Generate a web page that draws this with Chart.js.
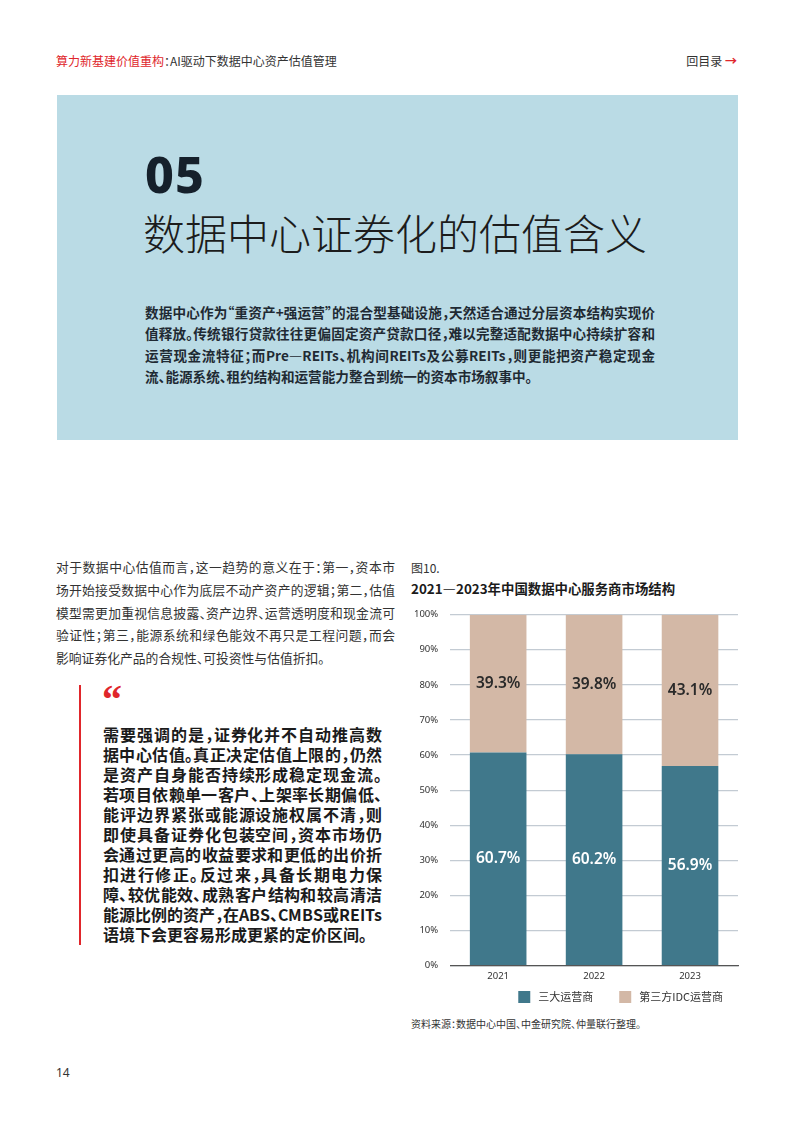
<!DOCTYPE html>
<html lang="zh-CN">
<head>
<meta charset="utf-8">
<title>数据中心证券化的估值含义</title>
<script src="https://cdn.jsdelivr.net/npm/chart.js@4.4.1/dist/chart.umd.min.js"></script>
<style>
  /* tighter line boxes for big / tightly set CJK text (same installed fonts) */
  @font-face {
    font-family: "QuoteCJK";
    src: local("Noto Sans CJK SC Bold"), local("NotoSansCJKsc-Bold"), local("Noto Sans CJK SC");
    font-weight: bold;
    ascent-override: 86%;
    descent-override: 14%;
    line-gap-override: 0%;
  }
  @font-face {
    font-family: "TitleCJK";
    src: local("Noto Sans CJK SC Light"), local("NotoSansCJKsc-Light"), local("Noto Sans CJK SC DemiLight");
    font-weight: 300;
    ascent-override: 88%;
    descent-override: 12%;
    line-gap-override: 0%;
  }
  html, body { margin: 0; padding: 0; background: #fff; }
  body { width: 794px; height: 1123px; position: relative; overflow: hidden;
         font-family: "Noto Sans CJK SC", "Noto Sans", sans-serif; color: #222;
         font-feature-settings: "halt"; }
  .abs { position: absolute; }
  .jl { display: block; text-align: justify; text-align-last: justify; white-space: nowrap; }
  .last { text-align-last: left; }
  #header-left { left: 56px; top: 52px; font-size: 12px; color: #333; }
  #header-left .red { color: #e0262b; }
  #header-right { right: 57px; top: 52px; font-size: 12px; color: #333; }
  #header-right .arrow { color: #e0262b; font-weight: bold; }
  #box { left: 57px; top: 95px; width: 681px; height: 345px; background: #badbe5; }
  #num { left: 145px; top: 149px; font-family: "Noto Sans", sans-serif; font-weight: 800;
         font-size: 50px; letter-spacing: 1px; color: #15202b; line-height: 1; }
  #title { left: 143px; top: 211px; font-family: "TitleCJK", "Noto Sans CJK SC", sans-serif;
           font-size: 42px; font-weight: 300; color: #1c1c1c; line-height: 1.1; }
  #intro { left: 145px; top: 302px; width: 510px; font-size: 13.6px; font-weight: bold;
           line-height: 21.4px; color: #1f2a33; }
  #body { left: 56px; top: 556px; width: 339px; font-size: 12.8px; line-height: 22.8px; color: #333; }
  #bar { left: 79px; top: 685px; width: 2px; height: 260px; background: #e0262b; }
  #qmark { left: 102px; top: 680px; font-family: "Liberation Serif", serif; font-weight: bold;
           font-size: 40px; color: #e0262b; line-height: 1; }
  #quote { left: 103px; top: 725px; width: 279px; font-family: "QuoteCJK", "Noto Sans CJK SC", sans-serif;
           font-size: 16px; font-weight: bold; line-height: 20px; color: #1b1b1b; }
  #fig { left: 411px; top: 559px; font-size: 12px; color: #333; }
  #ctitle { left: 411px; top: 578px; font-size: 13.4px; font-weight: bold; color: #1b1b1b; }
  #chart-wrap { left: 402px; top: 597px; width: 342px; height: 416px; }
  #source { left: 411px; top: 1016px; font-size: 10px; color: #333; }
  #page { left: 56px; top: 1064px; font-size: 12px; color: #333; font-family: "Noto Sans", sans-serif; }
</style>
</head>
<body>
<div id="header-left" class="abs"><span class="red">算力新基建价值重构</span>：AI驱动下数据中心资产估值管理</div>
<div id="header-right" class="abs">回目录 <span class="arrow">→</span></div>

<div id="box" class="abs"></div>
<div id="num" class="abs">05</div>
<div id="title" class="abs">数据中心证券化的估值含义</div>
<div id="intro" class="abs">
  <span class="jl">数据中心作为“重资产+强运营”的混合型基础设施，天然适合通过分层资本结构实现价</span>
  <span class="jl">值释放。传统银行贷款往往更偏固定资产贷款口径，难以完整适配数据中心持续扩容和</span>
  <span class="jl">运营现金流特征；而Pre—REITs、机构间REITs及公募REITs，则更能把资产稳定现金</span>
  <span class="jl last">流、能源系统、租约结构和运营能力整合到统一的资本市场叙事中。</span>
</div>

<div id="body" class="abs">
  <span class="jl">对于数据中心估值而言，这一趋势的意义在于：第一，资本市</span>
  <span class="jl">场开始接受数据中心作为底层不动产资产的逻辑；第二，估值</span>
  <span class="jl">模型需更加重视信息披露、资产边界、运营透明度和现金流可</span>
  <span class="jl">验证性；第三，能源系统和绿色能效不再只是工程问题，而会</span>
  <span class="jl last">影响证券化产品的合规性、可投资性与估值折扣。</span>
</div>

<div id="bar" class="abs"></div>
<div id="qmark" class="abs">“</div>
<div id="quote" class="abs">
  <span class="jl">需要强调的是，证券化并不自动推高数</span>
  <span class="jl">据中心估值。真正决定估值上限的，仍然</span>
  <span class="jl">是资产自身能否持续形成稳定现金流。</span>
  <span class="jl">若项目依赖单一客户、上架率长期偏低、</span>
  <span class="jl">能评边界紧张或能源设施权属不清，则</span>
  <span class="jl">即使具备证券化包装空间，资本市场仍</span>
  <span class="jl">会通过更高的收益要求和更低的出价折</span>
  <span class="jl">扣进行修正。反过来，具备长期电力保</span>
  <span class="jl">障、较优能效、成熟客户结构和较高清洁</span>
  <span class="jl">能源比例的资产，在ABS、CMBS或REITs</span>
  <span class="jl last">语境下会更容易形成更紧的定价区间。</span>
</div>

<div id="fig" class="abs">图10.</div>
<div id="ctitle" class="abs">2021—2023年中国数据中心服务商市场结构</div>
<div id="chart-wrap" class="abs"><canvas id="chart"></canvas></div>
<div id="source" class="abs">资料来源：数据中心中国、中金研究院、仲量联行整理。</div>
<div id="page" class="abs">14</div>

<script>
// chart data
const years = ['2021', '2022', '2023'];
const bigThree = [60.7, 60.2, 56.9];
const thirdParty = [39.3, 39.8, 43.1];
const yTicks = [0, 10, 20, 30, 40, 50, 60, 70, 80, 90, 100];

// draw value labels centred in each bar segment
const segmentLabels = {
    id: 'segmentLabels',
    afterDatasetsDraw(chart) {
        const ctx = chart.ctx;
        ctx.save();
        ctx.font = '600 15.5px "Noto Sans", sans-serif';
        ctx.textAlign = 'center';
        ctx.textBaseline = 'middle';
        chart.data.datasets.forEach((ds, i) => {
            chart.getDatasetMeta(i).data.forEach((bar, j) => {
                const p = bar.getProps(['x', 'y', 'base'], true);
                ctx.fillStyle = ds.labelColor;
                ctx.fillText(ds.data[j].toFixed(1) + '%', p.x, (p.y + p.base) / 2);
            });
        });
        ctx.restore();
    }
};

const ctx = document.getElementById('chart').getContext('2d');
new Chart(ctx, {
    type: 'bar',
    data: {
        labels: years,
        datasets: [
            { label: '三大运营商', data: bigThree, backgroundColor: '#40788b', labelColor: '#ffffff' },
            { label: '第三方IDC运营商', data: thirdParty, backgroundColor: '#d3b8a6', labelColor: '#2a2a2a' }
        ]
    },
    options: {
        responsive: true,
        maintainAspectRatio: false,
        animation: false,
        barPercentage: 0.59,
        categoryPercentage: 1,
        layout: { padding: { top: 0, right: 6, left: 0, bottom: 0 } },
        plugins: {
            legend: {
                position: 'bottom',
                align: 'end',
                labels: {
                    boxWidth: 12, boxHeight: 12, padding: 4,
                    color: '#333', font: { size: 11, family: '"Noto Sans CJK SC", sans-serif' },
                    // wider gap between the entries and a little room on the right, as in the print
                    generateLabels(chart) {
                        const items = Chart.defaults.plugins.legend.labels.generateLabels(chart);
                        items.forEach((it, i) => {
                            it.text = ' ' + it.text + (i < items.length - 1 ? '\u2003\u2003' : '\u2003');
                        });
                        return items;
                    }
                }
            },
            tooltip: { enabled: false }
        },
        scales: {
            x: {
                stacked: true,
                grid: { display: false, drawTicks: false },
                border: { color: '#555', width: 1.2 },
                ticks: { color: '#333', font: { size: 9.5, family: '"Noto Sans", sans-serif' }, padding: 5 }
            },
            y: {
                stacked: true,
                min: 0, max: 100,
                afterBuildTicks(axis) { axis.ticks = yTicks.map(v => ({ value: v })); },
                grid: { color: '#c3cbd3', lineWidth: 1.2, drawTicks: false },
                border: { display: false },
                ticks: {
                    color: '#333', padding: 12,
                    font: { size: 9.5, family: '"Noto Sans", sans-serif' },
                    callback: v => v + '%'
                }
            }
        }
    },
    plugins: [segmentLabels]
});
</script>
</body>
</html>
